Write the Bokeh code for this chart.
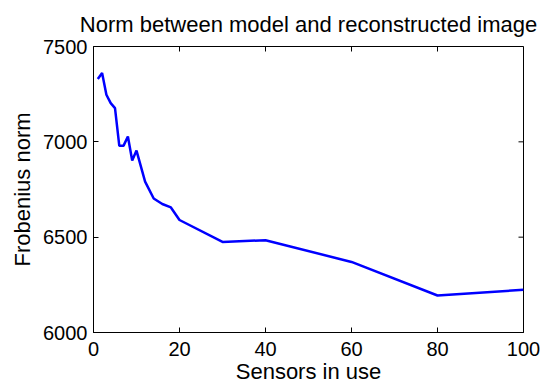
import math
from bokeh.plotting import figure
from bokeh.models import FixedTicker, Range1d
from bokeh.embed import file_html
from bokeh.resources import INLINE

# Data
sensors = [1, 2, 3, 4, 5, 6, 7, 8, 9, 10, 12, 14, 16, 18, 20, 30, 40, 60, 80, 100]
frob_norm = [7330, 7361, 7247, 7203, 7177, 6979, 6980, 7028, 6902, 6954,
             6791, 6703, 6674, 6656, 6590, 6475, 6484, 6370, 6194, 6224]
x_ticks = [0, 20, 40, 60, 80, 100]
y_ticks = [6000, 6500, 7000, 7500]
title_text = "Norm between model and reconstructed image"

FONT = "Liberation Sans"

x_min, x_max = x_ticks[0], x_ticks[-1]
y_min, y_max = y_ticks[0], y_ticks[-1]

p = figure(width=548, height=389, output_backend="svg", toolbar_location=None,
           x_range=Range1d(x_min, x_max), y_range=Range1d(y_min, y_max),
           min_border_left=93, min_border_right=25, min_border_top=46, min_border_bottom=57,
           title=title_text)

p.line(sensors, frob_norm, line_color="#0000FF", line_width=2.5)

# inward ticks on the top and right edges of the box (MATLAB style)
p.ray(x=x_ticks, y=[y_max] * len(x_ticks), length=5, length_units="screen",
      angle=-math.pi / 2, line_color="black", line_width=1)
p.ray(x=[x_max] * len(y_ticks), y=y_ticks, length=5, length_units="screen",
      angle=math.pi, line_color="black", line_width=1)

p.xgrid.visible = False
p.ygrid.visible = False
p.outline_line_color = "black"
p.outline_line_width = 1
p.background_fill_color = "white"
p.border_fill_color = "white"

p.title.text_font = FONT
p.title.text_font_size = "22px"
p.title.text_font_style = "normal"
p.title.align = "center"
p.title.text_color = "black"
p.title.vertical_align = "top"
p.title.standoff = 16

def style_axis(ax, ticks):
    ax.ticker = FixedTicker(ticks=ticks)
    ax.major_tick_in = 5
    ax.major_tick_out = 0
    ax.minor_tick_line_color = None
    ax.axis_line_color = "black"
    ax.major_tick_line_color = "black"
    ax.major_label_text_font = FONT
    ax.major_label_text_color = "black"
    ax.major_label_text_font_size = "20px"
    ax.axis_label_text_font = FONT
    ax.axis_label_text_font_style = "normal"
    ax.axis_label_text_color = "black"
    ax.axis_label_text_font_size = "22px"

style_axis(p.xaxis[0], x_ticks)
style_axis(p.yaxis[0], y_ticks)
p.xaxis[0].axis_label = "Sensors in use"
p.yaxis[0].axis_label = "Frobenius norm"
p.xaxis[0].major_label_standoff = 9
p.xaxis[0].axis_label_standoff = 0
p.yaxis[0].major_label_standoff = 6
p.yaxis[0].axis_label_standoff = 5

open("out.html", "w").write(file_html(p, INLINE))
